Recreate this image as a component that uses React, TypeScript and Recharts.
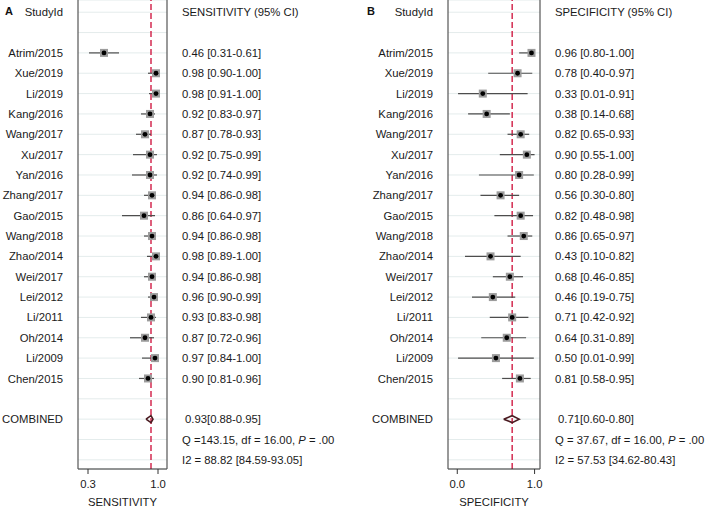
import { ScatterChart, Scatter, XAxis, YAxis, CartesianGrid, ReferenceLine, ErrorBar } from "recharts";

const studies = [
  "Atrim/2015", "Xue/2019", "Li/2019", "Kang/2016", "Wang/2017", "Xu/2017", "Yan/2016", "Zhang/2017",
  "Gao/2015", "Wang/2018", "Zhao/2014", "Wei/2017", "Lei/2012", "Li/2011", "Oh/2014", "Li/2009", "Chen/2015",
];

const sensEst = [0.46, 0.98, 0.98, 0.92, 0.87, 0.92, 0.92, 0.94, 0.86, 0.94, 0.98, 0.94, 0.96, 0.93, 0.87, 0.97, 0.9];
const sensLo = [0.31, 0.9, 0.91, 0.83, 0.78, 0.75, 0.74, 0.86, 0.64, 0.86, 0.89, 0.86, 0.9, 0.83, 0.72, 0.84, 0.81];
const sensHi = [0.61, 1.0, 1.0, 0.97, 0.93, 0.99, 0.99, 0.98, 0.97, 0.98, 1.0, 0.98, 0.99, 0.98, 0.96, 1.0, 0.96];
const sensPooled = [0.93, 0.88, 0.95];
const sensQ = "Q =143.15, df = 16.00, ";
const sensI2 = "I2 = 88.82 [84.59-93.05]";
const sensTicks = [0.3, 1.0];

const specEst = [0.96, 0.78, 0.33, 0.38, 0.82, 0.9, 0.8, 0.56, 0.82, 0.86, 0.43, 0.68, 0.46, 0.71, 0.64, 0.5, 0.81];
const specLo = [0.8, 0.4, 0.01, 0.14, 0.65, 0.55, 0.28, 0.3, 0.48, 0.65, 0.1, 0.46, 0.19, 0.42, 0.31, 0.01, 0.58];
const specHi = [1.0, 0.97, 0.91, 0.68, 0.93, 1.0, 0.99, 0.8, 0.98, 0.97, 0.82, 0.85, 0.75, 0.92, 0.89, 0.99, 0.95];
const specPooled = [0.71, 0.6, 0.8];
const specQ = "Q = 37.67, df = 16.00, ";
const specI2 = "I2 = 57.53 [34.62-80.43]";
const specTicks = [0.0, 1.0];

const FONT = "'Liberation Sans', Arial, sans-serif";
const FS = 11.3;
const ROWS = Array.from({ length: 23 }, (_, i) => i);
const FIRST = 2;
const COMB = 20;
const f2 = (v: number) => v.toFixed(2);

function Marker(props: any) {
  const { cx, cy } = props;
  return (
    <g>
      <rect x={cx - 4} y={cy - 4} width={8} height={8} fill="#9c9c9c" />
      <circle cx={cx} cy={cy} r={2.4} fill="#000" />
    </g>
  );
}

function ForestPanel({ xLabel, header, est, lo, hi, pooled, qText, i2Text, domain, ticks, width, leftW, rightW }: any) {
  const points = est.map((v: number, i: number) => ({ x: v, y: i + FIRST, err: [v - lo[i], hi[i] - v] }));
  const h = 0.17;
  const diamond = [
    { x: pooled[1], y: COMB },
    { x: pooled[0], y: COMB - h },
    { x: pooled[2], y: COMB },
    { x: pooled[0], y: COMB + h },
    { x: pooled[1], y: COMB },
  ];

  const LeftTick = ({ x, y, payload }: any) => {
    const r = payload.value;
    let label = "";
    if (r === 0) label = "StudyId";
    else if (r >= FIRST && r < FIRST + studies.length) label = studies[r - FIRST];
    else if (r === COMB) label = "COMBINED";
    return (
      <text x={x} y={y} dy="0.36em" textAnchor="end" fontSize={FS} fill="#1a1a1a" fontFamily={FONT}>
        {label}
      </text>
    );
  };

  const RightTick = ({ x, y, payload }: any) => {
    const r = payload.value;
    let content: any = "";
    let dx = 0;
    if (r === 0) content = header;
    else if (r >= FIRST && r < FIRST + est.length) {
      const i = r - FIRST;
      content = `${f2(est[i])} [${f2(lo[i])}-${f2(hi[i])}]`;
    } else if (r === COMB) {
      content = `${f2(pooled[0])}[${f2(pooled[1])}-${f2(pooled[2])}]`;
      dx = 3;
    } else if (r === COMB + 1) {
      content = (
        <>
          {qText}
          <tspan fontStyle="italic">P</tspan>
          {" = .00"}
        </>
      );
    } else if (r === COMB + 2) content = i2Text;
    return (
      <text x={x + dx} y={y} dy="0.36em" textAnchor="start" fontSize={FS} fill="#1a1a1a" fontFamily={FONT}>
        {content}
      </text>
    );
  };

  return (
    <ScatterChart width={width} height={508} margin={{ top: 0, right: 0, bottom: 0, left: 0 }}>
      <CartesianGrid yAxisId="l" vertical={false} stroke="#e4ecec" />
      <XAxis
        dataKey="x"
        type="number"
        domain={domain}
        ticks={ticks}
        allowDataOverflow
        tickFormatter={(v: number) => v.toFixed(1)}
        tickSize={5}
        tickMargin={6}
        height={39}
        stroke="#333"
        tick={{ fontSize: FS, fill: "#1a1a1a", fontFamily: FONT }}
        label={{ value: xLabel, position: "insideBottom", offset: 2, fontSize: FS, fill: "#1a1a1a", fontFamily: FONT }}
      />
      <YAxis
        yAxisId="l"
        dataKey="y"
        type="number"
        domain={[-0.6, 22.45]}
        ticks={ROWS}
        interval={0}
        reversed
        allowDataOverflow
        width={leftW}
        tickLine={false}
        tickSize={0}
        tickMargin={15}
        axisLine={{ stroke: "#555", strokeWidth: 1.2 }}
        tick={<LeftTick />}
      />
      <YAxis
        yAxisId="r"
        orientation="right"
        type="number"
        domain={[-0.6, 22.45]}
        ticks={ROWS}
        interval={0}
        reversed
        allowDataOverflow
        width={rightW}
        tickLine={false}
        tickSize={0}
        tickMargin={15}
        axisLine={{ stroke: "#555", strokeWidth: 1.2 }}
        tick={<RightTick />}
      />
      <ReferenceLine yAxisId="l" x={pooled[0]} stroke="#d01c44" strokeWidth={1.4} strokeDasharray="6 3" />
      <Scatter yAxisId="l" data={points} shape={Marker} isAnimationActive={false}>
        <ErrorBar dataKey="err" direction="x" width={0} stroke="#4d4d4d" strokeWidth={1.2} />
      </Scatter>
      <Scatter
        yAxisId="l"
        data={diamond}
        line={{ stroke: "#4a1a20", strokeWidth: 1.6 }}
        lineType="joint"
        shape={() => <g />}
        isAnimationActive={false}
      />
    </ScatterChart>
  );
}

export default function App() {
  return (
    <div style={{ position: "absolute", left: 0, top: 0, width: 709, height: 508, background: "#fff", fontFamily: FONT }}>
      <div style={{ position: "absolute", left: 0, top: 0 }}>
        <ForestPanel
          xLabel="SENSITIVITY"
          header="SENSITIVITY (95% CI)"
          est={sensEst}
          lo={sensLo}
          hi={sensHi}
          pooled={sensPooled}
          qText={sensQ}
          i2Text={sensI2}
          domain={[0.2, 1.09]}
          ticks={sensTicks}
          width={354}
          leftW={78}
          rightW={187}
        />
      </div>
      <div style={{ position: "absolute", left: 354, top: 0 }}>
        <ForestPanel
          xLabel="SPECIFICITY"
          header="SPECIFICITY (95% CI)"
          est={specEst}
          lo={specLo}
          hi={specHi}
          pooled={specPooled}
          qText={specQ}
          i2Text={specI2}
          domain={[-0.12, 1.07]}
          ticks={specTicks}
          width={355}
          leftW={94}
          rightW={169}
        />
      </div>
      <span style={{ position: "absolute", left: 5, top: 5, fontSize: 11, fontWeight: "bold", color: "#111" }}>A</span>
      <span style={{ position: "absolute", left: 367, top: 5, fontSize: 11, fontWeight: "bold", color: "#111" }}>B</span>
    </div>
  );
}
